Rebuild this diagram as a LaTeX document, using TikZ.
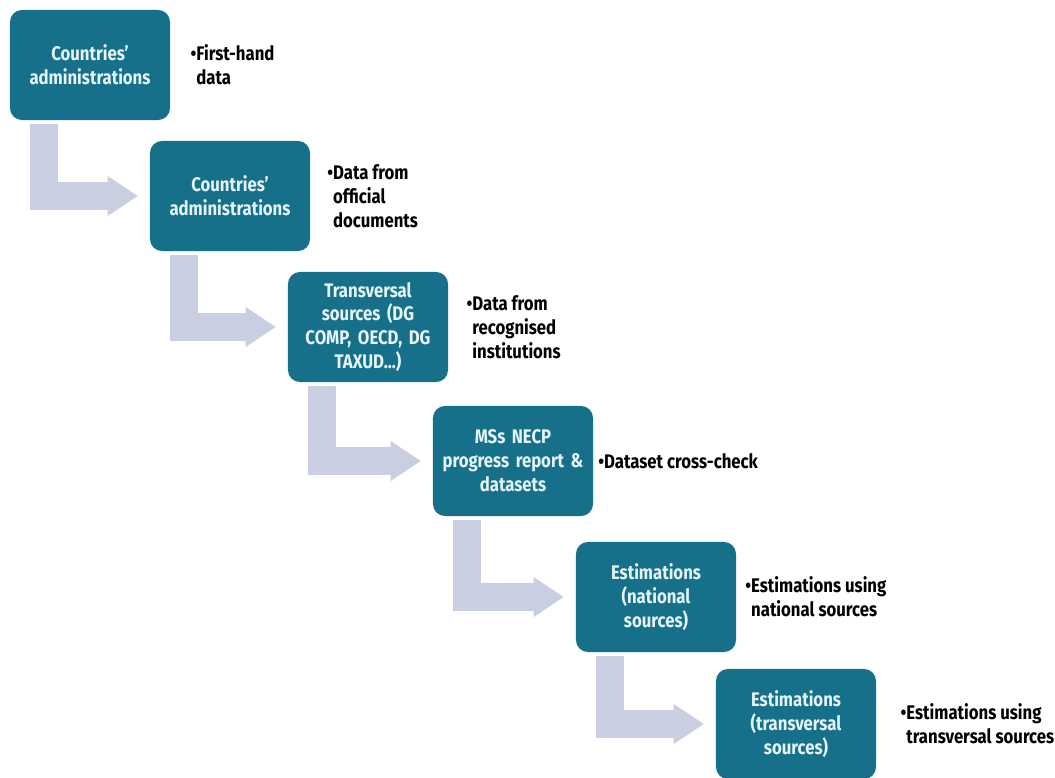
\documentclass[tikz,border=0pt]{standalone}
\usepackage{fontspec}
\setmainfont[FakeStretch=0.85]{Fira Sans}
\usetikzlibrary{arrows.meta,positioning}

\definecolor{boxteal}{HTML}{17708A}
\definecolor{boxtext}{HTML}{E4F4F8}
\definecolor{flowgrey}{HTML}{C9CFE1}

\begin{document}
\begin{tikzpicture}[x=0.025cm,y=-0.025cm,
    stage/.style={fill=boxteal, text=boxtext, rounded corners=0.3cm,
      minimum width=4cm, minimum height=2.75cm, text width=3.7cm,
      align=center, inner sep=0pt, font=\fontsize{14}{17}\selectfont\bfseries},
    note/.style={align=left, inner sep=0pt, font=\fontsize{14}{17}\selectfont\bfseries},
    flow/.style={draw=flowgrey, line width=0.7cm, line join=miter,
      shorten <=0.08cm, shorten >=0.3cm,
      -{Triangle[length=0.75cm,width=1cm,line width=0pt]}}]

      % Page size (pixels of the reference)
      \useasboundingbox (0,0) rectangle (1055,778);

      % Stages, stepping down to the right
      \node[stage] (b1) at (90,65) {Countries'\\administrations};
      \node[stage] (b2) at (230,196) {Countries'\\administrations};
      \node[stage] (b3) at (368,327) {Transversal\\sources (DG\\COMP, OECD, DG\\TAXUD...)};
      \node[stage] (b4) at (513,461) {MSs NECP\\progress report \&\\datasets};
      \node[stage] (b5) at (656,597) {Estimations\\(national\\sources)};
      \node[stage] (b6) at (796,724) {Estimations\\(transversal\\sources)};

      % Notes beside each stage
      \node[note, right=0.5cm of b1] (n1) {•First-hand\\\phantom{•}data};
      \node[note, right=0.42cm of b2] (n2) {•Data from\\\phantom{•}official\\\phantom{•}documents};
      \node[note, right=0.45cm of b3] (n3) {•Data from\\\phantom{•}recognised\\\phantom{•}institutions};
      \node[note, right=0.12cm of b4] (n4) {•Dataset cross-check};
      \node[note, right=0.22cm of b5] (n5) {•Estimations using\\\phantom{•}national sources};
      \node[note, right=0.6cm of b6] (n6) {•Estimations using\\\phantom{•}transversal sources};

      % Bent arrows from one stage to the next
      \foreach \a/\b in {b1/b2,b2/b3,b3/b4,b4/b5,b5/b6} {
        \draw[flow] ([xshift=-1.15cm]\a.south) |- (\b.west);
      }
    \end{tikzpicture}
\end{document}
